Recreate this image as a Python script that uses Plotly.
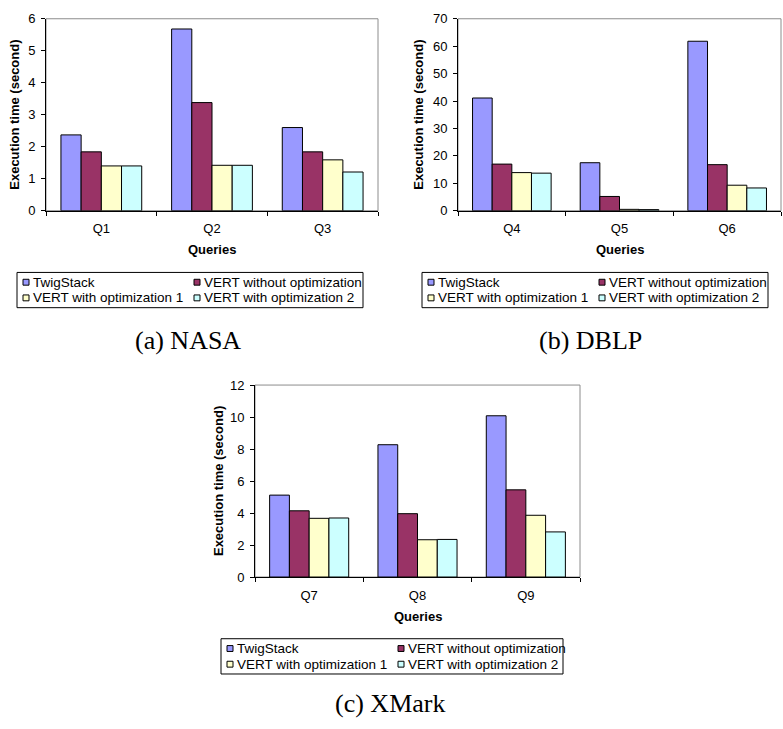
import plotly.graph_objects as go

W, H = 783, 729

series_names = ["TwigStack", "VERT without optimization",
                "VERT with optimization 1", "VERT with optimization 2"]
series_colors = ["#9999FF", "#993366", "#FFFFCC", "#CCFFFF"]

nasa_queries = ["Q1", "Q2", "Q3"]
nasa_twig = [2.37, 5.68, 2.60]
nasa_vert = [1.84, 3.38, 1.84]
nasa_opt1 = [1.40, 1.42, 1.59]
nasa_opt2 = [1.40, 1.42, 1.21]

dblp_queries = ["Q4", "Q5", "Q6"]
dblp_twig = [41.1, 17.5, 61.8]
dblp_vert = [17.0, 5.2, 16.8]
dblp_opt1 = [13.9, 0.5, 9.3]
dblp_opt2 = [13.7, 0.4, 8.3]

xmark_queries = ["Q7", "Q8", "Q9"]
xmark_twig = [5.12, 8.27, 10.08]
xmark_vert = [4.14, 3.96, 5.45]
xmark_opt1 = [3.67, 2.33, 3.86]
xmark_opt2 = [3.69, 2.35, 2.82]

y_ranges = [(0, 6, 1), (0, 70, 10), (0, 12, 2)]
captions = ["(a) NASA", "(b) DBLP", "(c) XMark"]

# pixel boxes of each plot area: (left, top, right, bottom)
boxes = [(46, 12, 378, 208), (458, 12, 781, 208), (255, 386, 580, 582)]
ytitle_x = [15, 419, 218]
legend_boxes = [(17, 271, 363, 307), (422, 271, 768, 307), (221, 645, 563, 681)]
caption_pos = [(188, 340), (590, 340), (390, 711)]


def px(x):
    return x / W


def py(y):
    return 1 - y / H


SANS = "Liberation Sans, Arial, sans-serif"
SERIF = "Liberation Serif, Times New Roman, serif"

panels = [
    (nasa_queries, [nasa_twig, nasa_vert, nasa_opt1, nasa_opt2]),
    (dblp_queries, [dblp_twig, dblp_vert, dblp_opt1, dblp_opt2]),
    (xmark_queries, [xmark_twig, xmark_vert, xmark_opt1, xmark_opt2]),
]

fig = go.Figure()
shapes = []
annotations = []

for i, (cats, vals) in enumerate(panels):
    sfx = "" if i == 0 else str(i + 1)
    for name, color, v in zip(series_names, series_colors, vals):
        fig.add_trace(go.Bar(
            x=cats, y=v, name=name, marker_color=color,
            marker_line_color="black", marker_line_width=1,
            xaxis="x" + sfx, yaxis="y" + sfx, showlegend=False,
        ))
    l, t, r, b = boxes[i]
    lo, hi, dt = y_ranges[i]
    fig.update_layout({
        "xaxis" + sfx: dict(
            domain=[px(l), px(r)], anchor="y" + sfx, type="category",
            showline=True, linecolor="black", linewidth=1,
            ticks="outside", tickson="boundaries", ticklen=4,
            tickcolor="black", showgrid=False, zeroline=False,
            ticklabelstandoff=6,
            tickfont=dict(family=SANS, size=13, color="black"),
        ),
        "yaxis" + sfx: dict(
            domain=[py(b), py(t)], anchor="x" + sfx, range=[lo, hi],
            dtick=dt, tick0=0, showline=True, linecolor="black", linewidth=1,
            ticks="outside", ticklen=4, tickcolor="black",
            showgrid=False, zeroline=False, ticklabelstandoff=3,
            tickfont=dict(family=SANS, size=13, color="black"),
        ),
    })
    # gray frame (top/right)
    shapes.append(dict(type="rect", xref="x" + sfx + " domain", yref="y" + sfx + " domain",
                       x0=0, x1=1, y0=0, y1=1, line=dict(color="#8c8c8c", width=1),
                       layer="below"))
    # axis titles
    annotations.append(dict(text="<b>Execution time (second)</b>", textangle=-90,
                            x=px(ytitle_x[i]), y=py((t + b) / 2),
                            xanchor="center", yanchor="middle",
                            xref="paper", yref="paper",
                            showarrow=False, font=dict(family=SANS, size=13, color="black")))
    annotations.append(dict(text="<b>Queries</b>", x=px((l + r) / 2), y=py(b + 40),
                            xanchor="center", yanchor="middle",
                            xref="paper", yref="paper", showarrow=False,
                            font=dict(family=SANS, size=13, color="black")))
    # legend
    lx0, ly0, lx1, ly1 = legend_boxes[i]
    shapes.append(dict(type="rect", xref="paper", yref="paper",
                       x0=px(lx0), x1=px(lx1), y0=py(ly1), y1=py(ly0),
                       line=dict(color="black", width=1), fillcolor="white"))
    for k, (name, color) in enumerate(zip(series_names, series_colors)):
        col, row = k % 2, k // 2
        sx = lx0 + 6 + col * 171
        sy = ly0 + 10 + row * 16
        shapes.append(dict(type="rect", xref="paper", yref="paper",
                           x0=px(sx), x1=px(sx + 6), y0=py(sy + 3), y1=py(sy - 3),
                           line=dict(color="black", width=1), fillcolor=color))
        annotations.append(dict(text=name, x=px(sx + 8), y=py(sy), xref="paper", yref="paper",
                                xanchor="left", yanchor="middle", showarrow=False,
                                font=dict(family=SANS, size=13.5, color="black")))
    cx, cy = caption_pos[i]
    annotations.append(dict(text=captions[i], x=px(cx), y=py(cy), xref="paper", yref="paper",
                            xanchor="center", yanchor="middle",
                            showarrow=False, font=dict(family=SERIF, size=26, color="black")))

fig.update_layout(
    width=W, height=H, margin=dict(l=0, r=0, t=0, b=0),
    paper_bgcolor="white", plot_bgcolor="white",
    barmode="group", bargap=0.27, bargroupgap=0,
    shapes=shapes, annotations=annotations, showlegend=False,
)

fig.write_html("out.html", config={"displayModeBar": False},
               post_script="document.body.style.margin='0px';document.body.style.padding='0px';")
